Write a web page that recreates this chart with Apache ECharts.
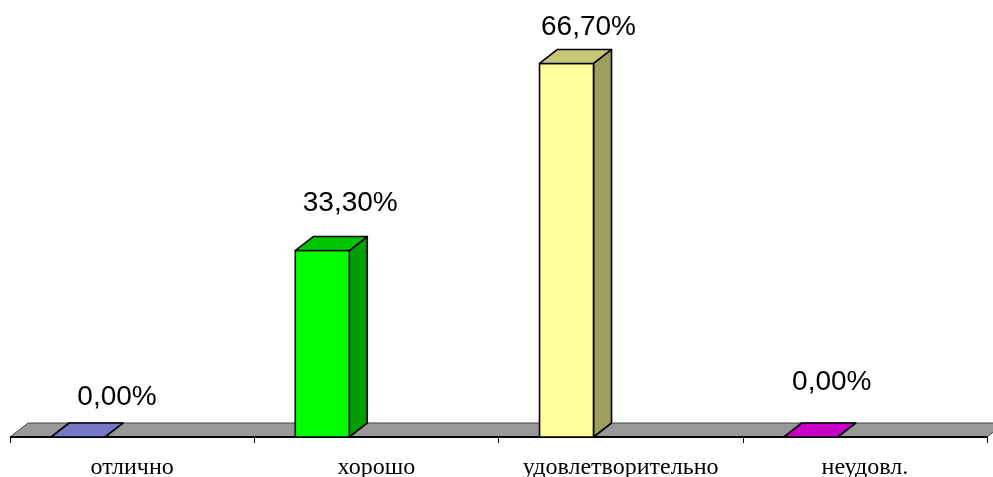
<!DOCTYPE html>
<html>
<head>
<meta charset="utf-8">
<script src="https://cdn.jsdelivr.net/npm/echarts@6/dist/echarts.min.js"></script>
<style>
html,body{margin:0;padding:0;background:#fff;}
#chart{width:993px;height:477px;}
</style>
</head>
<body>
<div id="chart"></div>
<script>
// ---- data ----
const categories = ['отлично', 'хорошо', 'удовлетворительно', 'неудовл.'];
const values = [0, 33.3, 66.7, 0];
const valueLabels = ['0,00%', '33,30%', '66,70%', '0,00%'];

// ---- styles ----
const barColors = ['#9999ff', '#00ff00', '#ffff99', '#ff00ff'];
const DX = 18, DY = 14;            // 3D depth in pixels
const labelShift = [[39, -26], [28, -33], [22, -22], [21, -41]]; // label placement tweaks

function shade(hex, f) {
  const n = parseInt(hex.slice(1), 16);
  const r = Math.round(((n >> 16) & 255) * f);
  const g = Math.round(((n >> 8) & 255) * f);
  const b = Math.round((n & 255) * f);
  return 'rgb(' + r + ',' + g + ',' + b + ')';
}

const chart = echarts.init(document.getElementById('chart'));

function floorRender(params, api) {
  const cs = params.coordSys;
  const y0 = cs.y + cs.height;
  const x0 = cs.x, x1 = cs.x + cs.width;
  return {
    type: 'group',
    children: [{
      type: 'polygon',
      shape: { points: [[x0, y0], [x1, y0], [x1 + DX, y0 - DY], [x0 + DX, y0 - DY]] },
      style: { fill: '#999999', stroke: '#444444', lineWidth: 1 }
    }, {
      type: 'line',
      shape: { x1: x0, y1: y0, x2: x1, y2: y0 },
      style: { stroke: '#000', lineWidth: 2 }
    }]
  };
}

function barRender(params, api) {
  const idx = api.value(0);
  const v = api.value(1);
  const base = api.coord([idx, 0]);
  const top = api.coord([idx, v]);
  const catW = api.size([1, 0])[0];
  const catLeft = base[0] - catW / 2;
  const w = catW * 0.221;
  const x = catLeft + catW * 0.168;
  const y0 = base[1];
  const yt = top[1];
  const c = barColors[idx];
  const stroke = { stroke: '#000', lineWidth: 1.6, lineJoin: 'round' };
  const children = [];
  if (y0 - yt > 0.5) {
    children.push({
      type: 'polygon',
      shape: { points: [[x + w, y0], [x + w + DX, y0 - DY], [x + w + DX, yt - DY], [x + w, yt]] },
      style: Object.assign({ fill: shade(c, 0.62) }, stroke)
    });
    children.push({
      type: 'rect',
      shape: { x: x, y: yt, width: w, height: y0 - yt },
      style: Object.assign({ fill: c }, stroke)
    });
  }
  children.push({
    type: 'polygon',
    shape: { points: [[x, yt], [x + w, yt], [x + w + DX, yt - DY], [x + DX, yt - DY]] },
    style: Object.assign({ fill: shade(c, 0.78) }, stroke)
  });
  const ls = labelShift[idx];
  children.push({
    type: 'text',
    x: x + w / 2 + ls[0],
    y: yt - DY + ls[1],
    style: {
      text: valueLabels[idx],
      fill: '#000',
      font: '28px "Liberation Sans", Arial, sans-serif',
      align: 'center',
      verticalAlign: 'middle'
    }
  });
  return { type: 'group', children: children };
}

chart.setOption({
  animation: false,
  backgroundColor: '#fff',
  grid: { left: 10, right: 6, top: 17, bottom: 40, containLabel: false, outerBoundsMode: 'none' },
  xAxis: {
    type: 'category',
    data: categories,
    boundaryGap: true,
    axisLine: { show: true, lineStyle: { color: '#000', width: 1 } },
    axisTick: { show: true, length: 6, interval: 0, lineStyle: { color: '#000' } },
    axisLabel: {
      color: '#000',
      interval: 0,
      hideOverlap: false,
      fontFamily: '"Liberation Serif", "Times New Roman", serif',
      fontSize: 24,
      margin: 19
    },
    splitLine: { show: false }
  },
  yAxis: {
    type: 'value',
    min: 0,
    max: 75,
    show: false,
    splitLine: { show: false }
  },
  series: [{
    type: 'custom',
    renderItem: floorRender,
    data: [[0, 0]],
    clip: false,
    z: 1,
    silent: true
  }, {
    type: 'custom',
    renderItem: barRender,
    data: values.map((v, i) => [i, v]),
    encode: { x: 0, y: 1 },
    clip: false,
    z: 2
  }]
});
</script>
</body>
</html>
